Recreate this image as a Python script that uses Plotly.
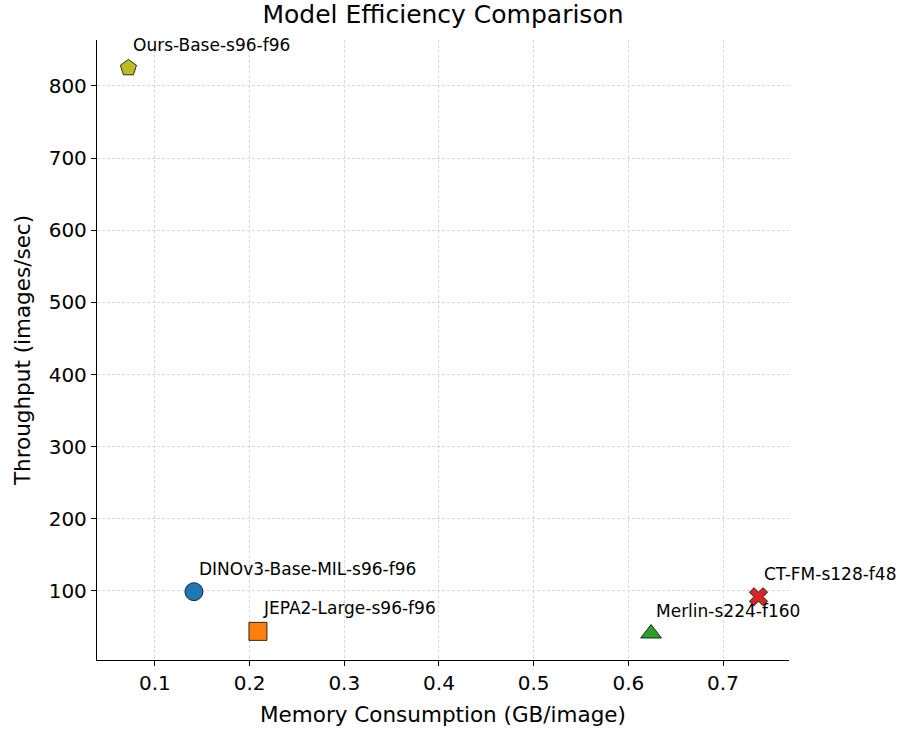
import plotly.graph_objects as go

models = ["Ours-Base-s96-f96", "DINOv3-Base-MIL-s96-f96", "JEPA2-Large-s96-f96",
          "Merlin-s224-f160", "CT-FM-s128-f48"]
memory = [0.0720, 0.1412, 0.2088, 0.6240, 0.7375]
throughput = [825, 99, 44, 41, 92]
colors = ["#bcbd22", "#1f77b4", "#ff7f0e", "#2ca02c", "#d62728"]
symbols = ["pentagon", "circle", "square", "triangle-up", "x"]
sizes = [17, 18, 18, 18, 16]
xticks = [0.1, 0.2, 0.3, 0.4, 0.5, 0.6, 0.7]
yticks = [100, 200, 300, 400, 500, 600, 700, 800]

FONT = "DejaVu Sans"
fig = go.Figure()
for m, x, y, c, s, sz in zip(models, memory, throughput, colors, symbols, sizes):
    fig.add_trace(go.Scatter(
        x=[x], y=[y], mode="markers", name=m,
        marker=dict(color=c, symbol=s, size=sz, line=dict(color="black", width=0.8)),
        showlegend=False, hoverinfo="skip",
    ))
    fig.add_annotation(x=x, y=y, text=m, showarrow=False, xanchor="left", yanchor="middle",
                       xshift=3, yshift=23, font=dict(family=FONT, size=17, color="black"))

fig.update_layout(
    width=899, height=736,
    margin=dict(l=97, r=110, t=40, b=76),
    plot_bgcolor="white", paper_bgcolor="white",
    font=dict(family=FONT, color="black"),
    title=dict(text="Model Efficiency Comparison", x=0.5, xref="paper", xanchor="center",
               y=1 - 14.5 / 736, yanchor="middle", font=dict(family=FONT, size=25, color="black")),
)
fig.update_xaxes(
    range=[0.0388, 0.7697], tickvals=xticks, ticktext=[f"{v:.1f}" for v in xticks],
    showline=True, linecolor="black", linewidth=1.3, mirror=False,
    ticks="outside", ticklen=5, tickwidth=1.2, tickcolor="black",
    tickfont=dict(family=FONT, size=20), automargin=False,
    showgrid=True, gridcolor="#d9d9d9", griddash="3px,2px", gridwidth=0.8, zeroline=False,
    title=dict(text="Memory Consumption (GB/image)", font=dict(family=FONT, size=21.5), standoff=12),
)
fig.update_yaxes(
    range=[4.3, 863.7], tickvals=yticks,
    showline=True, linecolor="black", linewidth=1.3, mirror=False,
    ticks="outside", ticklen=5, tickwidth=1.2, tickcolor="black",
    tickfont=dict(family=FONT, size=20), automargin=False,
    showgrid=True, gridcolor="#d9d9d9", griddash="3px,2px", gridwidth=0.8, zeroline=False,
    title=dict(text="Throughput (images/sec)", font=dict(family=FONT, size=21.5), standoff=12),
)
fig.write_html("out.html", config={"displayModeBar": False},
               post_script="document.body.style.margin='0';")
